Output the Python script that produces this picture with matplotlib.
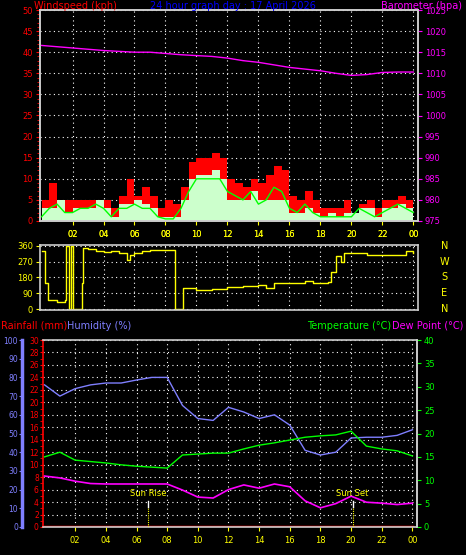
import numpy as np
import matplotlib
matplotlib.use("Agg")
import matplotlib.pyplot as plt

# ---------- data ----------
wind_t = [i * 0.5 for i in range(49)]
gust = [5,9,5,5,5,5,5,5,5,3,6,10,6,8,6,3,5,4,8,14,15,15,16,15,10,9,8,10,9,11,13,12,6,5,7,5,3,3,3,5,2,4,5,3,5,5,6,5,5]
speed = [3,3,5,2,3,3,3,5,3,1,4,4,5,4,3,1,1,1,5,10,11,11,12,10,5,5,5,7,5,5,5,5,2,2,3,2,1,2,1,2,2,3,3,1,3,3,4,3,3]
avg = [1,3,4,2,2,3,3,4,3,1,3,3,4,3,3,1,0.5,0.5,3,7,10,10,10,10,7,6,5,7,4,5,8,7,3,2,4,2,1,1,1,1,1,3,2,1,2,3,4,3,2]

baro_t = list(range(25))
baro = [1016.6,1016.3,1016.0,1015.7,1015.4,1015.2,1015.0,1015.0,1014.7,1014.4,1014.2,1014.0,1013.6,
        1013.0,1012.6,1012.0,1011.4,1011.0,1010.6,1010.0,1009.5,1009.7,1010.2,1010.3,1010.3]

dir_t = [0,0.25,0.4,0.5,1,1.5,1.6,1.75,1.9,2.0,2.5,2.6,2.7,3,3.5,4,4.5,5,5.5,5.7,6,6.5,7,7.5,8,8.5,8.6,9,9.1,
         10,11,12,13,14,14.5,15,16,17,17.5,18,18.5,18.7,19,19.3,19.5,20,21,22,23,23.5,24]
wdir = [330,150,50,50,40,50,360,0,360,0,0,150,350,340,330,325,330,320,280,310,320,330,335,335,335,335,0,0,120,
        110,115,125,130,140,120,150,150,160,150,150,155,210,300,270,320,320,310,310,310,330,320]

clim_t = list(range(25))
temp = [15.0,16.0,14.3,14.0,13.7,13.3,13.0,12.8,12.6,15.4,15.6,15.8,15.8,16.7,17.5,18.0,18.6,19.2,19.5,19.7,20.5,17.3,16.7,16.3,15.2]
dew = [10.9,10.5,9.8,9.3,9.2,9.2,9.2,9.2,9.2,7.9,6.4,6.2,8.0,9.0,8.3,9.2,8.6,5.6,4.1,5.0,6.6,5.3,5.1,4.8,5.1]
hum = [76,70,74,76,77,77,78.6,80,80,65,58,57,64,61.5,58,60,54.5,41,38.5,40,47.6,48,48,49,52]
rain = [0] * 25

sun_rise, sun_set = 6.75, 20.1
hour_ticks = list(range(2, 25, 2))
hour_labels = ["02","04","06","08","10","12","14","16","18","20","22","00"]

# ---------- figure ----------
W, H = 466, 555
fig = plt.figure(figsize=(W/100, H/100), dpi=100, facecolor="black")
fs = 6
tfs = 7
YEL = "#ffff00"; MAG = "#ff00ff"; RED = "#ff0000"; GRN = "#00ff00"; BLU = "#7f7fff"

def frac(x0, y0, x1, y1):
    return [x0/W, 1 - y1/H, (x1-x0)/W, (y1-y0)/H]

def style(ax):
    ax.set_facecolor("black")
    for s in ax.spines.values():
        s.set_color("#cccccc"); s.set_linewidth(1.2)
    ax.set_xlim(-0.1, 24.3)
    ax.set_xticks(hour_ticks)
    ax.grid(True, color="white", linestyle=(0, (1, 3)), linewidth=0.8)
    ax.set_axisbelow(True)

# top panel
ax1 = fig.add_axes(frac(40, 10, 418, 221))
style(ax1)
ax1.fill_between(wind_t, gust, step="post", color=RED, lw=0)
ax1.fill_between(wind_t, speed, step="post", color="#ccffcc", lw=0)
ax1.plot(wind_t, avg, color=GRN, lw=1)
ax1.set_ylim(0, 50)
ax1.set_yticks(range(0, 51, 5))
ax1.set_xticklabels(hour_labels)
ax1.tick_params(axis="x", colors=YEL, labelsize=fs, length=3)
ax1.tick_params(axis="y", colors=RED, labelsize=fs, length=3, pad=2)
ax1.set_yticks(range(0, 51, 1), minor=True)
ax1.tick_params(axis="y", which="minor", colors=RED, length=2)
ax1b = ax1.twinx()
ax1b.plot(baro_t, baro, color=MAG, lw=1)
ax1b.set_ylim(975, 1025)
ax1b.set_yticks(range(975, 1026, 5))
ax1b.tick_params(axis="y", colors=MAG, labelsize=fs, length=3, pad=2)
for s in ax1b.spines.values():
    s.set_color("#cccccc"); s.set_linewidth(1.2)
fig.text(34/W, 1-6/H, "Windspeed (kph)", color=RED, fontsize=tfs, va="center")
fig.text(0.5, 1-6/H, "24 hour graph day : 17 April 2026", color="#0000ff", fontsize=tfs, va="center", ha="center")
fig.text(462/W, 1-6/H, "Barometer (hpa)", color=MAG, fontsize=tfs, va="center", ha="right")

# middle panel
ax2 = fig.add_axes(frac(40, 245, 418, 310))
style(ax2)
ax2.plot(dir_t, wdir, color=YEL, lw=1, drawstyle="steps-post")
ax2.set_ylim(-5, 365)
ax2.set_yticks([0, 90, 180, 270, 360])
ax2.tick_params(axis="y", colors=YEL, labelsize=fs, length=3, pad=2)
ax2.xaxis.tick_top()
ax2.set_xticklabels(hour_labels)
ax2.tick_params(axis="x", colors=YEL, labelsize=fs, length=0, pad=4)
for lab, yv in zip(["N", "W", "S", "E", "N"], [360, 270, 180, 90, 0]):
    ax2.text(1.07, (yv + 5) / 370, lab, transform=ax2.transAxes, color=YEL, fontsize=tfs, ha="center", va="center")

# bottom panel
ax3 = fig.add_axes(frac(43, 340, 417, 527))
style(ax3)
ax3.plot(clim_t, rain, color=RED, lw=2.5)
ax3.set_ylim(0, 30)
ax3.set_yticks(range(0, 31, 2))
ax3.set_yticks(range(0, 31, 1), minor=True)
ax3.tick_params(axis="y", which="both", colors=RED, labelsize=5.5, length=2, pad=1)
ax3.set_xticklabels(hour_labels)
ax3.tick_params(axis="x", colors=YEL, labelsize=fs, length=3)
ax3.spines["left"].set_color(RED)

ax3h = ax3.twinx()
ax3h.yaxis.set_ticks_position("left"); ax3h.yaxis.set_label_position("left")
ax3h.spines["left"].set_position(("axes", -0.056))
ax3h.spines["left"].set_color(BLU); ax3h.spines["left"].set_linewidth(2.5)
for k in ["right", "top", "bottom"]:
    ax3h.spines[k].set_visible(False)
ax3h.plot(clim_t, hum, color=BLU, lw=1)
ax3h.set_ylim(0, 100)
ax3h.set_yticks(range(0, 101, 10))
ax3h.tick_params(axis="y", colors=BLU, labelsize=5.5, length=2, pad=1)

ax3t = ax3.twinx()
ax3t.spines["right"].set_color("#cccccc"); ax3t.spines["right"].set_linewidth(1.2)
for k in ["left", "top", "bottom"]:
    ax3t.spines[k].set_visible(False)
ax3t.plot(clim_t, temp, color=GRN, lw=1)
ax3t.plot(clim_t, dew, color=MAG, lw=1.2)
ax3t.set_ylim(0, 40)
ax3t.set_yticks(range(0, 41, 5))
ax3t.tick_params(axis="y", colors=GRN, labelsize=fs, length=3, pad=2)
for xs, lab in [(sun_rise, "Sun Rise"), (sun_set, "Sun Set")]:
    ax3t.plot([xs, xs], [4.2, 5.5], color="white", lw=1)
    ax3t.plot([xs, xs], [0, 4.2], color=YEL, lw=0.8, linestyle=(0, (1, 1)))
    ax3t.text(xs, 6.3, lab, color=YEL, fontsize=fs, ha="center", va="bottom")

fig.text(1/W, 1-326/H, "Rainfall (mm)", color=RED, fontsize=tfs, va="center")
fig.text(67/W, 1-326/H, "Humidity (%)", color=BLU, fontsize=tfs, va="center")
fig.text(391/W, 1-326/H, "Temperature (°C)", color=GRN, fontsize=tfs, va="center", ha="right")
fig.text(463/W, 1-326/H, "Dew Point (°C)", color=MAG, fontsize=tfs, va="center", ha="right")

fig.savefig("out.png", dpi=100, facecolor="black")
